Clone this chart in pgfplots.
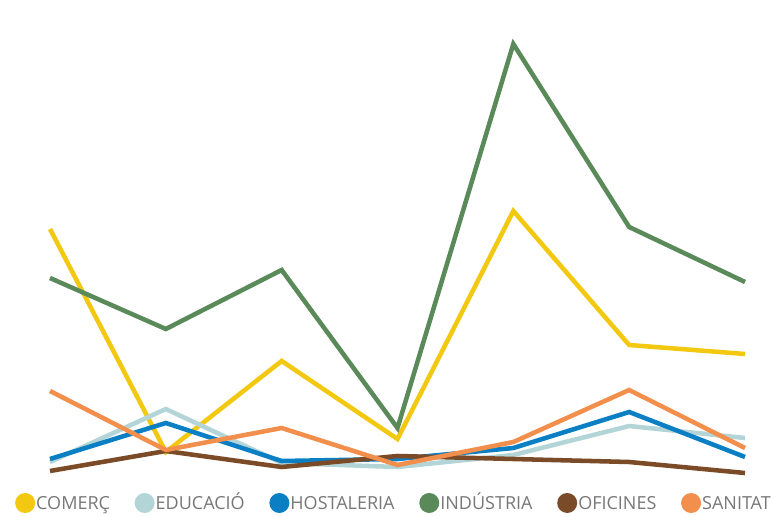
\documentclass[border=0pt]{standalone}
\usepackage{pgfplots}
\pgfplotsset{compat=1.18}
\usepackage{fontspec}
\setmainfont{Open Sans}
\definecolor{cYel}{HTML}{F2C811}
\definecolor{cLbl}{HTML}{B4D5D7}
\definecolor{cBlu}{HTML}{0A7FC4}
\definecolor{cGrn}{HTML}{5B8A5A}
\definecolor{cBrn}{HTML}{7B4B27}
\definecolor{cOrg}{HTML}{F28F4C}
\definecolor{txt}{HTML}{777777}
\begin{document}
\begin{tikzpicture}
\useasboundingbox (0,0) rectangle (585.75pt,387.75pt);
\begin{axis}[
  at={(37.5pt,0pt)}, anchor=south west,
  scale only axis, width=521.25pt, height=387.75pt,
  xmin=0, xmax=6, ymin=0, ymax=517,
  hide axis, clip=false,
  every axis plot/.append style={line width=3.4pt, line join=miter, no markers},
  legend columns=6,
  legend style={draw=none, fill=none, at={(axis description cs:0.4935,0.0271)}, anchor=center,
    font=\fontsize{13.5}{15}\selectfont\color{txt}, inner sep=0pt,
    nodes={text height=12.6pt, text depth=3pt, inner sep=0pt},
    /tikz/every even column/.append style={column sep=18.5pt},
    /tikz/every odd column/.append style={column sep=0.8pt}},
  legend image code/.code={\fill[#1, draw=none] (7.5pt,0pt) circle (7.5pt);},
]
\addplot[cYel] coordinates {(0,288) (1,65) (2,156) (3,78) (4,306) (5,172) (6,163)};
\addlegendentry{COMERÇ}
\addplot[cLbl] coordinates {(0,55) (1,108) (2,54) (3,50) (4,62) (5,91) (6,79)};
\addlegendentry{EDUCACIÓ}
\addplot[cBlu] coordinates {(0,58) (1,94) (2,56) (3,58) (4,69) (5,105) (6,60)};
\addlegendentry{HOSTALERIA}
\addplot[cGrn] coordinates {(0,239) (1,188) (2,247) (3,89) (4,473) (5,290) (6,235)};
\addlegendentry{INDÚSTRIA}
\addplot[cBrn] coordinates {(0,46) (1,66) (2,50) (3,61) (4,58) (5,55) (6,44)};
\addlegendentry{OFICINES}
\addplot[cOrg] coordinates {(0,126) (1,67) (2,89) (3,52) (4,75) (5,127) (6,69)};
\addlegendentry{SANITAT}
\end{axis}
\end{tikzpicture}
\end{document}
